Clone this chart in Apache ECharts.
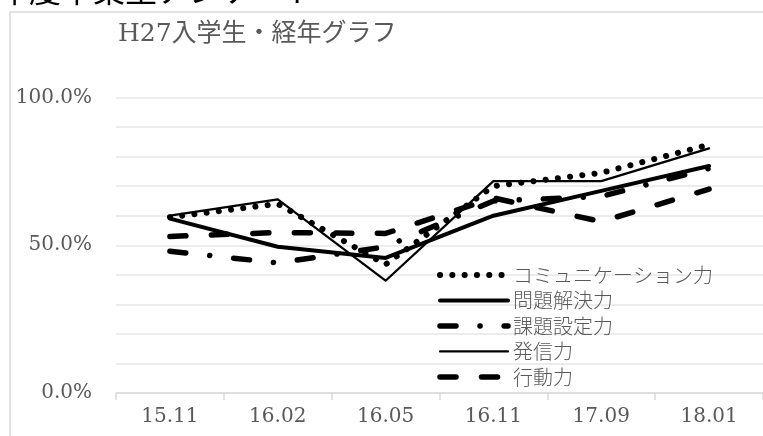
<!DOCTYPE html>
<html lang="ja">
<head>
	<meta charset="UTF-8">
	<title>H27入学生・経年グラフ</title>
	<script type="text/javascript" src="https://cdn.jsdelivr.net/npm/echarts@6/dist/echarts.min.js"></script>
	<style type="text/css">
	html, body{margin: 0; padding: 0; background: #fff;}
	#container{width: 763px; height: 436px;}
	</style>
</head>
<body>
	<div id="container"></div>
	<script type="text/javascript">
		// データ
		var categories = ['15.11', '16.02', '16.05', '16.11', '17.09', '18.01'];
		var seriesNames = ['コミュニケーション力', '問題解決力', '課題設定力', '発信力', '行動力'];
		var communication = [59.5, 64, 43.5, 70, 74.5, 84];
		var problemSolving = [59, 49.5, 45.7, 60, 68.4, 76.8];
		var taskSetting = [48, 44, 49.5, 65, 66.5, 76];
		var presentation = [60, 65.5, 38, 71.7, 71.7, 82.8];
		var action = [53, 54.3, 54, 66, 58, 69];
		var yLabelValues = [0, 50, 100];

		var serif = "'DejaVu Serif', 'Noto Sans CJK JP', serif";
		var jp = "'Noto Sans CJK JP', sans-serif";

		function line(name, data, width, type){
			return {
				name: name,
				type: 'line',
				data: data,
				symbol: 'none',
				showSymbol: false,
				lineStyle: {color: '#000', width: width, type: type, cap: 'round', join: 'round'},
				itemStyle: {color: '#000'},
				emphasis: {disabled: true}
			};
		}

		var myChart = echarts.init(document.getElementById('container'));
		var option = {
			animation: false,
			backgroundColor: '#fff',
			graphic: [
				{
					type: 'text', left: -3, top: -26, silent: true,
					style: {text: '年度卒業生アンケート', font: '32px ' + jp, fill: '#000'}
				},
				{
					type: 'rect', shape: {x: 10, y: 12, width: 900, height: 600},
					style: {fill: 'none', stroke: '#d9d9d9', lineWidth: 1.5}, silent: true
				},
				{
					type: 'text', left: 118, top: 22, silent: true,
					style: {text: 'H27入学生・経年グラフ', font: '25px ' + serif, fill: '#595959'}
				}
			],
			legend: {
				orient: 'vertical',
				left: 432,
				top: 260,
				itemWidth: 68,
				itemHeight: 14,
				itemGap: 5.5,
				data: seriesNames,
				itemStyle: {opacity: 0},
				lineStyle: {width: 'inherit', cap: 'round'},
				textStyle: {color: '#595959', fontSize: 20, fontFamily: jp, fontWeight: 300}
			},
			grid: {
				left: 116,
				top: 97.5,
				width: 660,
				height: 295.5
			},
			xAxis: {
				type: 'category',
				data: categories,
				boundaryGap: true,
				axisLine: {lineStyle: {color: '#d9d9d9', width: 1.5}},
				axisTick: {show: true, length: 7, lineStyle: {color: '#d9d9d9', width: 1.5}},
				axisLabel: {color: '#595959', fontSize: 20, fontFamily: serif, margin: 14}
			},
			yAxis: {
				type: 'value',
				min: 0,
				max: 100,
				interval: 10,
				axisLine: {show: false},
				axisTick: {show: false},
				splitLine: {lineStyle: {color: '#e6e6e6', width: 1.5}},
				axisLabel: {
					color: '#595959', fontSize: 20, fontFamily: serif, margin: 24,
					formatter: function(v){
						return yLabelValues.indexOf(v) >= 0 ? v.toFixed(1) + '%' : '';
					}
				}
			},
			series: [
				line(seriesNames[0], communication, 6, [0.1, 12.2]),
				line(seriesNames[1], problemSolving, 4, 'solid'),
				line(seriesNames[2], taskSetting, 5.5, [16, 24, 0.1, 24]),
				line(seriesNames[3], presentation, 2.25, 'solid'),
				line(seriesNames[4], action, 5.5, [16, 25.5])
			]
		};
		myChart.setOption(option);
	</script>
</body>
</html>
